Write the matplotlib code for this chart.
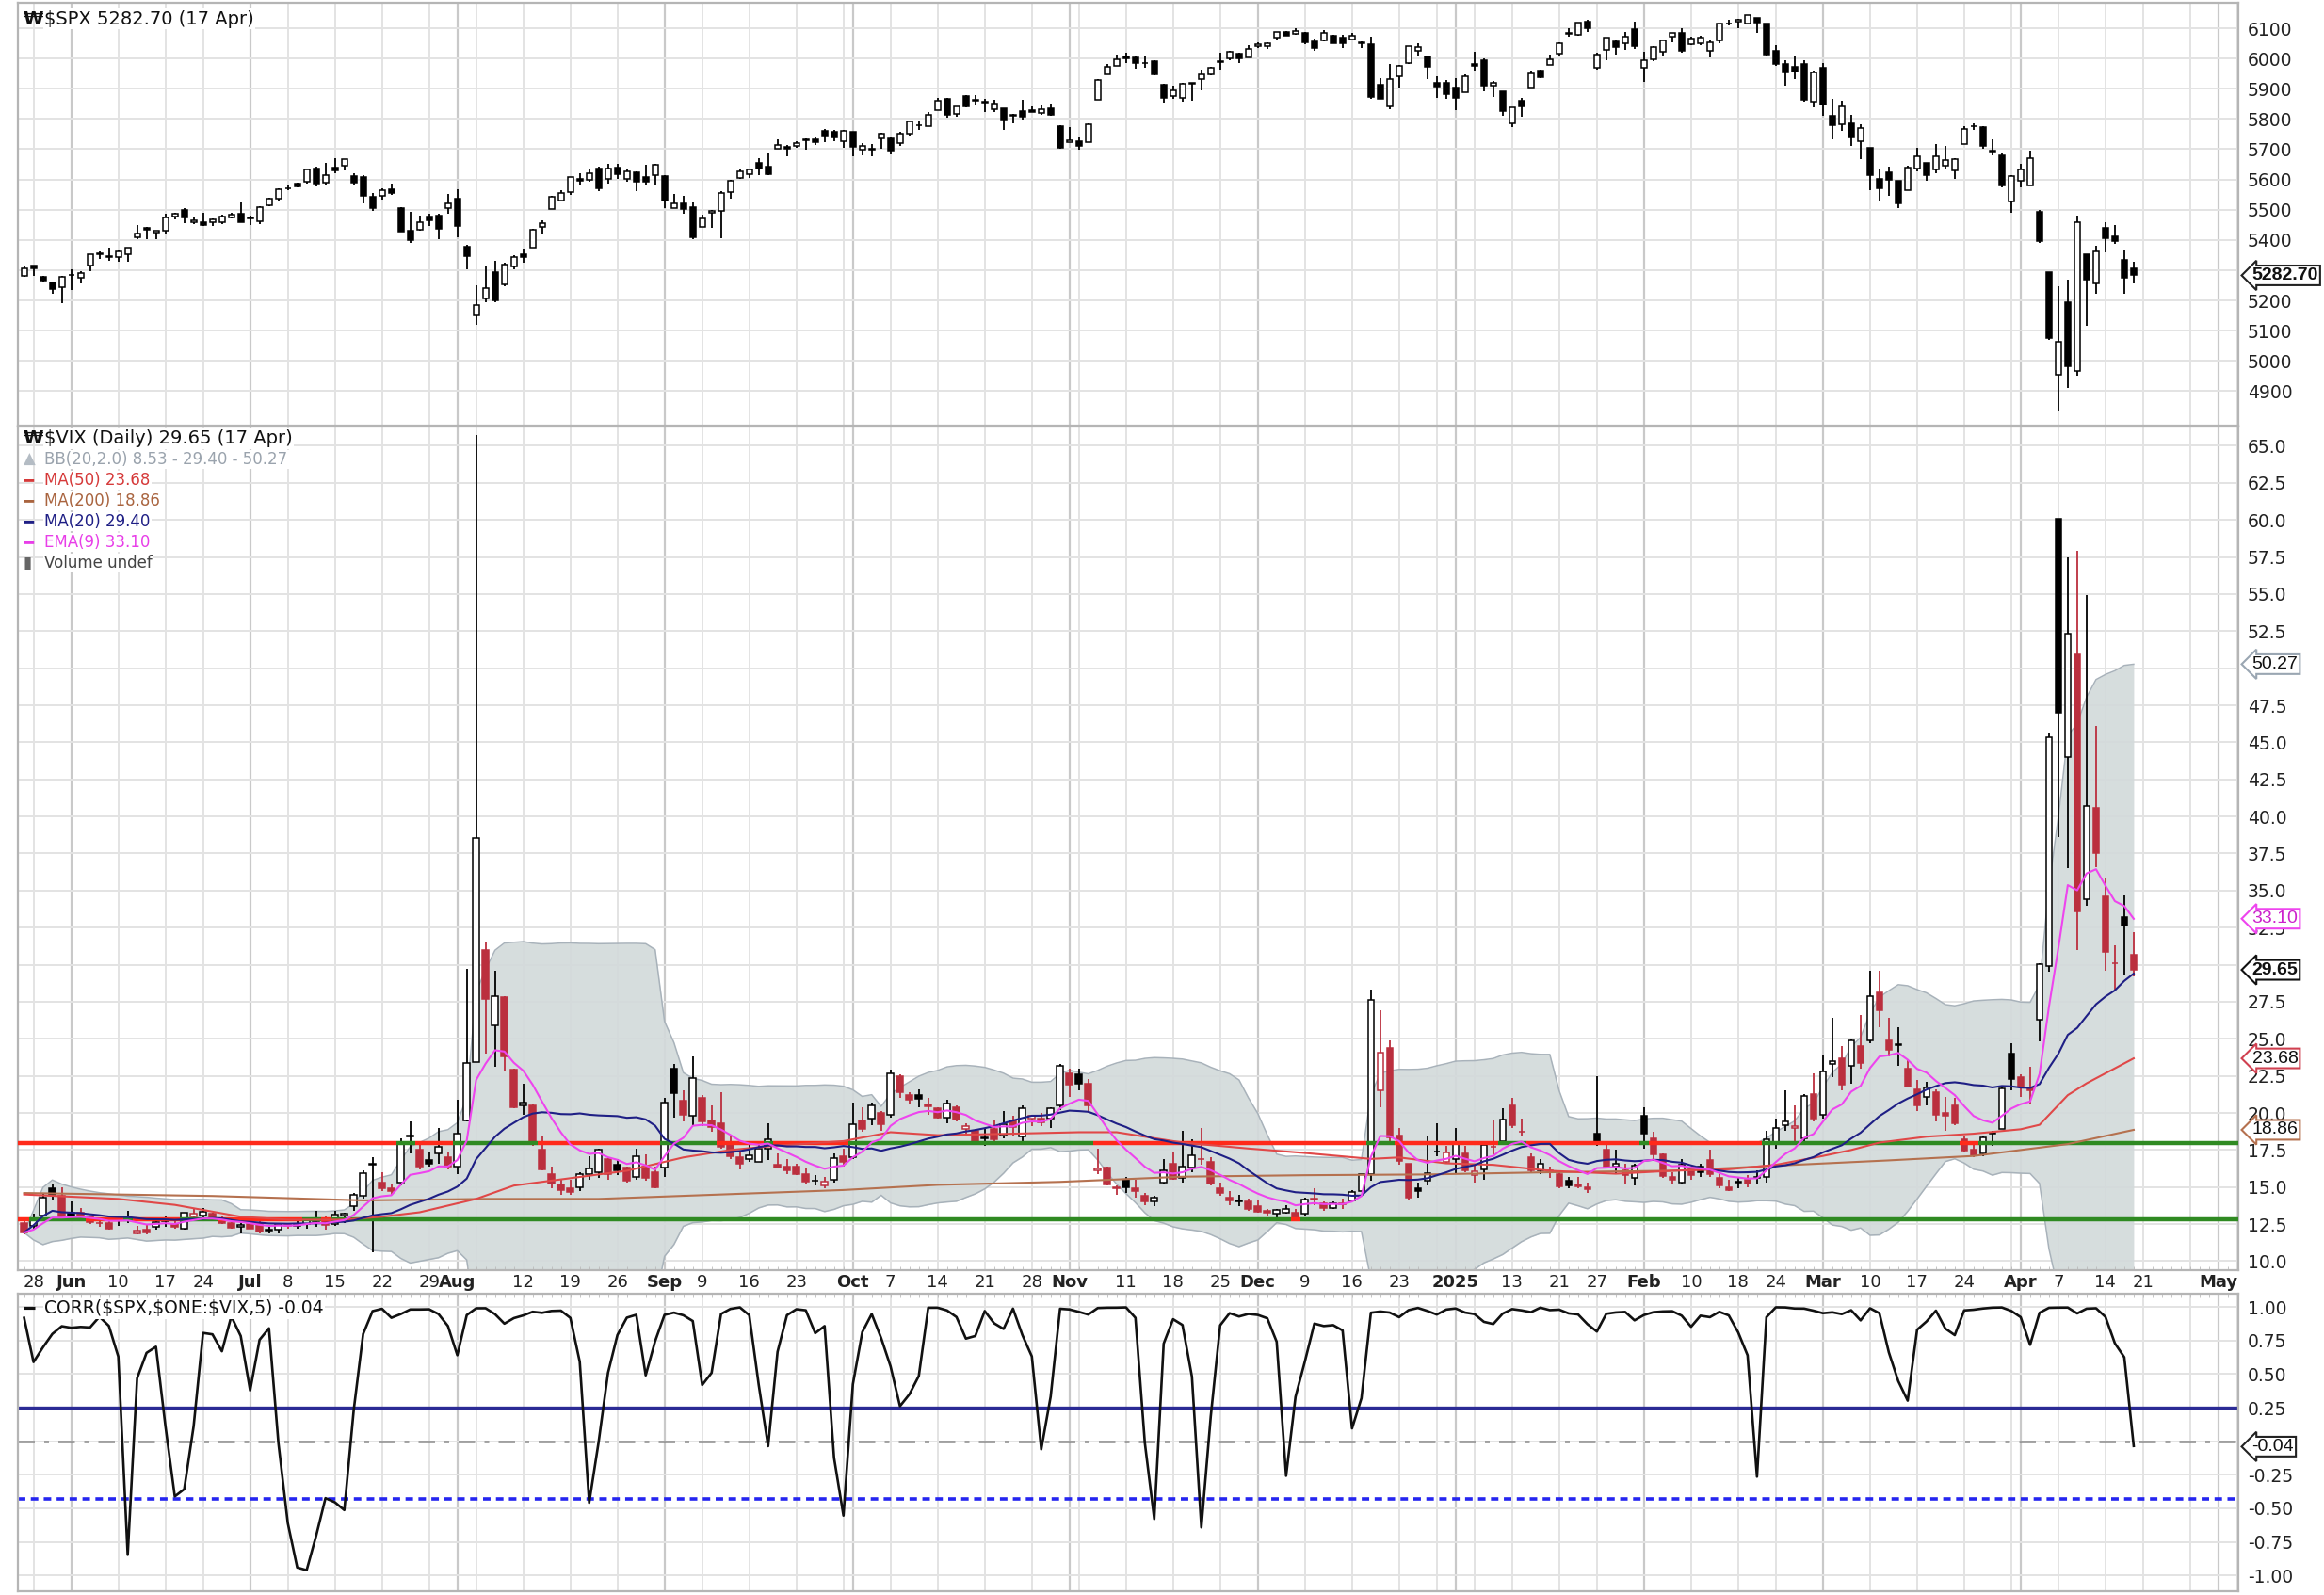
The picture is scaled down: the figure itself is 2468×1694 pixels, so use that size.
import numpy as np
import pandas as pd
import matplotlib
matplotlib.use("Agg")
import matplotlib.pyplot as plt
from matplotlib.patches import Rectangle
from matplotlib.collections import LineCollection
from matplotlib.transforms import blended_transform_factory

plt.rcParams['font.family'] = ['DejaVu Sans']

# trading days on the chart: 24 May 2024 -> 17 Apr 2025, then empty room to early May
closed = ["2024-05-27", "2024-06-19", "2024-07-04", "2024-09-02", "2024-11-28",
          "2024-12-25", "2025-01-01", "2025-01-09", "2025-01-20", "2025-02-17"]
days = pd.bdate_range("2024-05-24", "2025-04-17")
days = days[~days.isin(pd.to_datetime(closed))]
future = pd.bdate_range("2025-04-21", "2025-05-09")
all_days = days.append(future)

# ---- $SPX daily candles ----
spx_open = [5281, 5315, 5279, 5260, 5243,
            5283, 5275, 5314, 5357, 5343, 5342, 5353, 5410, 5441, 5423, 5431, 5477, 5499, 5460, 5459, 5460, 5460, 5473, 5488,
            5471, 5462, 5514, 5537, 5572, 5585, 5591, 5636, 5590, 5638, 5644, 5610, 5608, 5544, 5545, 5566, 5505, 5429, 5433, 5477, 5479, 5505,
            5537, 5377, 5151, 5206, 5294, 5253, 5312, 5352, 5376, 5442, 5502, 5531, 5557, 5603, 5598, 5637, 5603, 5639, 5602, 5624, 5607, 5613,
            5612, 5506, 5521, 5507, 5443, 5491, 5496, 5557, 5604, 5616, 5655, 5641, 5703, 5709, 5711, 5728, 5733, 5762, 5756, 5727,
            5757, 5698, 5699, 5737, 5737, 5719, 5752, 5778, 5775, 5830, 5866, 5816, 5875, 5859, 5857, 5833, 5834, 5814, 5826, 5830, 5819, 5834, 5775,
            5723, 5725, 5722, 5864, 5947, 5976, 6008, 6003, 5986, 5990, 5912, 5875, 5870, 5918, 5933, 5947, 5992, 6000, 6015, 6004,
            6040, 6042, 6070, 6089, 6082, 6083, 6057, 6060, 6074, 6068, 6063, 6052, 6048, 5913, 5842, 5941, 5984, 6025, 6007, 5921, 5920,
            5903, 5888, 5982, 5994, 5910, 5890, 5787, 5859, 5905, 5961, 5978, 6015, 6082, 6077, 6121, 5969, 6027, 6057, 6050, 6097,
            5970, 5998, 6021, 6073, 6083, 6047, 6049, 6026, 6061, 6116, 6121, 6117, 6134, 6115, 6026, 5982, 5971, 5981, 5857,
            5969, 5811, 5782, 5786, 5726, 5705, 5603, 5624, 5595, 5563, 5635, 5655, 5632, 5646, 5630, 5718, 5776, 5772, 5696, 5679, 5528,
            5597, 5580, 5492, 5292, 4953, 5193, 4966, 5354, 5255, 5441, 5412, 5335, 5306]
spx_high = [5311, 5315, 5282, 5260, 5280,
            5302, 5298, 5354, 5362, 5376, 5366, 5376, 5448, 5442, 5432, 5488, 5490, 5506, 5478, 5490, 5472, 5483, 5491, 5524,
            5480, 5510, 5539, 5570, 5583, 5590, 5636, 5642, 5655, 5670, 5667, 5622, 5615, 5556, 5570, 5586, 5508, 5492, 5479, 5488, 5486, 5552,
            5566, 5383, 5250, 5313, 5330, 5326, 5351, 5371, 5436, 5464, 5546, 5564, 5608, 5621, 5633, 5643, 5651, 5652, 5632, 5627, 5647, 5651,
            5613, 5552, 5547, 5523, 5484, 5500, 5560, 5600, 5636, 5637, 5670, 5690, 5734, 5715, 5725, 5735, 5741, 5767, 5764, 5765,
            5758, 5720, 5718, 5753, 5739, 5757, 5796, 5796, 5823, 5871, 5870, 5843, 5879, 5878, 5866, 5863, 5835, 5818, 5862, 5843, 5848, 5851, 5780,
            5772, 5741, 5784, 5933, 5983, 6012, 6018, 6010, 6009, 5994, 5916, 5909, 5920, 5920, 5963, 5973, 6020, 6025, 6020, 6044,
            6053, 6053, 6089, 6092, 6100, 6089, 6066, 6093, 6079, 6078, 6085, 6057, 6071, 5936, 5982, 5978, 6041, 6049, 6007, 5941, 5929,
            5935, 5949, 6022, 6001, 5927, 5890, 5839, 5871, 5961, 5964, 6014, 6052, 6100, 6119, 6129, 6018, 6070, 6062, 6087, 6121,
            6023, 6042, 6062, 6084, 6101, 6073, 6076, 6064, 6116, 6128, 6130, 6145, 6134, 6116, 6044, 5993, 6009, 5994, 5959,
            5986, 5866, 5860, 5813, 5783, 5706, 5636, 5642, 5597, 5645, 5704, 5655, 5716, 5711, 5670, 5775, 5786, 5777, 5732, 5685, 5615,
            5651, 5695, 5500, 5292, 5247, 5268, 5481, 5354, 5381, 5460, 5450, 5368, 5328]
spx_low = [5278, 5280, 5263, 5222, 5192,
           5234, 5257, 5297, 5336, 5331, 5328, 5327, 5402, 5404, 5404, 5421, 5468, 5455, 5452, 5446, 5446, 5451, 5470, 5460,
           5448, 5453, 5510, 5531, 5563, 5574, 5587, 5576, 5584, 5620, 5631, 5584, 5522, 5497, 5534, 5550, 5426, 5391, 5430, 5445, 5403, 5488,
           5410, 5302, 5119, 5193, 5195, 5247, 5303, 5324, 5376, 5420, 5502, 5530, 5550, 5584, 5591, 5560, 5586, 5603, 5591, 5561, 5584, 5581,
           5506, 5504, 5486, 5403, 5442, 5441, 5406, 5535, 5601, 5604, 5614, 5615, 5703, 5675, 5704, 5698, 5714, 5722, 5727, 5704,
           5677, 5679, 5675, 5703, 5683, 5712, 5745, 5764, 5775, 5829, 5804, 5808, 5840, 5846, 5824, 5822, 5763, 5784, 5799, 5823, 5813, 5811, 5703,
           5723, 5697, 5722, 5863, 5947, 5976, 5986, 5965, 5970, 5943, 5854, 5865, 5858, 5860, 5896, 5944, 5964, 5993, 5984, 6003,
           6035, 6033, 6061, 6075, 6079, 6048, 6024, 6058, 6051, 6036, 6059, 6035, 5867, 5866, 5832, 5903, 5983, 6007, 5933, 5869, 5868,
           5829, 5888, 5960, 5890, 5874, 5809, 5774, 5808, 5905, 5936, 5978, 6007, 6072, 6075, 6089, 5962, 5994, 6012, 6027, 6030,
           5923, 5991, 6007, 6053, 6020, 6044, 6043, 6004, 6051, 6108, 6099, 6111, 6084, 6009, 5977, 5909, 5933, 5858, 5837,
           5810, 5733, 5762, 5711, 5666, 5565, 5529, 5546, 5505, 5563, 5628, 5597, 5622, 5632, 5603, 5718, 5765, 5703, 5681, 5573, 5489,
           5574, 5579, 5391, 5069, 4835, 4911, 4950, 5116, 5221, 5359, 5387, 5221, 5256]
spx_close = [5305, 5306, 5267, 5236, 5278,
             5283, 5291, 5354, 5352, 5347, 5361, 5375, 5421, 5434, 5431, 5473, 5487, 5473, 5464, 5448, 5469, 5478, 5482, 5460,
             5475, 5509, 5537, 5567, 5572, 5577, 5633, 5585, 5615, 5631, 5667, 5589, 5545, 5505, 5564, 5556, 5427, 5399, 5459, 5464, 5436, 5522,
             5446, 5346, 5186, 5240, 5199, 5319, 5344, 5344, 5434, 5455, 5543, 5554, 5608, 5597, 5621, 5571, 5635, 5617, 5626, 5592, 5592, 5648,
             5529, 5520, 5503, 5408, 5471, 5496, 5554, 5596, 5626, 5634, 5635, 5618, 5714, 5703, 5719, 5732, 5722, 5745, 5738, 5762,
             5709, 5710, 5700, 5751, 5696, 5751, 5792, 5780, 5815, 5859, 5815, 5842, 5841, 5864, 5853, 5851, 5797, 5809, 5808, 5823, 5832, 5813, 5705,
             5729, 5712, 5783, 5929, 5973, 5996, 6001, 5984, 5985, 5949, 5871, 5894, 5917, 5917, 5949, 5969, 5987, 6021, 5999, 6032,
             6047, 6050, 6087, 6075, 6090, 6053, 6034, 6084, 6051, 6051, 6074, 6051, 5872, 5867, 5931, 5974, 6040, 6037, 5971, 5907, 5882,
             5869, 5942, 5975, 5909, 5918, 5827, 5837, 5843, 5950, 5937, 5997, 6049, 6086, 6119, 6101, 6012, 6068, 6039, 6071, 6041,
             5994, 6038, 6061, 6084, 6026, 6066, 6068, 6052, 6115, 6115, 6129, 6144, 6118, 6013, 5983, 5955, 5956, 5862, 5955,
             5849, 5778, 5843, 5739, 5770, 5615, 5572, 5599, 5522, 5639, 5675, 5615, 5675, 5663, 5668, 5768, 5777, 5712, 5693, 5581, 5612,
             5633, 5671, 5397, 5074, 5062, 4983, 5457, 5268, 5363, 5406, 5397, 5276, 5282.70]

# ---- $VIX daily candles ----
vix_prev_close = 12.77   # 23 May, only used to colour the first candle
vix_open = [12.6, 12.4, 13.1, 14.9, 14.4,
            13.3, 13.3, 13.0, 12.6, 12.6, 12.8, 12.8, 11.9, 12.1, 12.3, 12.7, 12.5, 12.2, 13.0, 13.1, 13.2, 12.8, 12.6, 12.3,
            12.5, 12.6, 12.1, 12.1, 12.5, 12.4, 12.5, 12.7, 12.8, 12.5, 13.1, 13.7, 14.4, 16.6, 15.3, 14.9, 15.3, 18.4, 17.5, 16.8, 17.3, 17.0,
            16.4, 19.5, 23.4, 31.0, 25.9, 27.8, 22.9, 20.5, 20.5, 17.5, 15.9, 15.2, 14.9, 15.0, 15.9, 16.0, 16.9, 16.5, 16.3, 15.7, 16.4, 16.0,
            16.3, 23.0, 20.8, 19.8, 21.0, 19.5, 19.3, 17.9, 17.0, 16.9, 16.7, 17.6, 16.5, 16.4, 16.4, 15.9, 15.4, 15.1, 15.5, 17.1,
            17.0, 19.5, 19.6, 20.0, 19.9, 22.5, 21.2, 21.2, 20.6, 20.3, 19.7, 20.4, 18.9, 18.8, 18.3, 18.9, 18.5, 19.5, 18.4, 19.6, 19.6, 19.6, 20.5,
            22.7, 22.6, 22.0, 16.1, 16.3, 15.0, 15.5, 14.9, 14.4, 14.0, 15.3, 16.6, 15.6, 16.3, 16.9, 16.7, 14.9, 14.3, 14.0, 14.0,
            13.7, 13.4, 13.2, 13.3, 13.3, 13.2, 14.2, 13.9, 13.6, 13.9, 14.1, 14.7, 15.9, 21.5, 24.4, 18.5, 16.6, 14.9, 15.4, 17.4, 16.7,
            16.9, 17.3, 15.8, 16.2, 17.7, 18.1, 20.5, 18.7, 17.0, 16.1, 16.1, 15.9, 15.4, 15.2, 15.0, 18.6, 17.5, 16.4, 16.1, 15.6,
            19.8, 18.3, 17.2, 15.7, 15.3, 16.3, 16.4, 16.8, 15.6, 15.0, 15.3, 15.5, 15.6, 15.7, 18.0, 19.2, 19.0, 18.3, 21.3,
            19.9, 23.3, 23.7, 23.2, 24.5, 24.9, 28.1, 24.9, 24.6, 23.0, 21.6, 21.1, 21.4, 20.0, 20.5, 18.2, 17.5, 17.3, 18.6, 18.9, 24.0,
            22.4, 21.7, 26.3, 29.9, 60.1, 44.0, 50.9, 34.4, 40.6, 34.6, 30.1, 33.2, 30.7]
vix_high = [12.7, 13.2, 14.6, 15.2, 15.0,
            14.0, 13.6, 13.1, 12.8, 12.9, 13.0, 13.4, 12.4, 12.5, 12.8, 13.0, 12.7, 13.3, 13.5, 13.6, 13.3, 13.0, 12.7, 12.6,
            13.0, 12.7, 12.3, 12.5, 12.6, 12.7, 12.9, 13.4, 13.0, 13.4, 13.3, 14.6, 16.1, 17.0, 16.0, 15.2, 18.3, 19.4, 18.1, 17.4, 19.0, 17.4,
            20.9, 29.7, 65.7, 31.5, 29.6, 27.9, 23.0, 22.0, 20.6, 18.4, 16.4, 15.5, 15.5, 16.0, 17.1, 17.6, 17.0, 16.9, 16.4, 17.6, 17.2, 16.4,
            21.0, 23.3, 21.5, 23.8, 21.2, 20.5, 21.4, 18.4, 17.4, 17.9, 17.9, 19.3, 17.3, 16.9, 16.6, 16.3, 15.8, 15.7, 17.3, 17.6,
            20.7, 20.4, 20.7, 20.1, 22.9, 22.6, 21.4, 21.6, 21.0, 20.4, 20.9, 20.5, 19.3, 18.9, 18.9, 19.5, 20.1, 19.8, 20.5, 19.8, 20.0, 20.4, 23.3,
            23.0, 23.0, 22.3, 17.6, 16.4, 15.1, 15.7, 15.5, 14.6, 14.4, 16.9, 17.4, 18.8, 18.2, 19.0, 17.0, 15.3, 14.7, 14.5, 14.2,
            14.1, 13.5, 13.5, 13.8, 13.5, 14.3, 14.9, 14.0, 14.0, 14.2, 14.8, 15.9, 28.3, 26.9, 24.9, 19.0, 16.6, 15.3, 18.4, 19.3, 17.8,
            19.0, 17.8, 16.5, 18.1, 19.5, 20.3, 21.0, 19.6, 17.3, 16.9, 16.4, 16.0, 15.7, 15.7, 15.3, 22.5, 17.9, 17.5, 16.6, 16.6,
            20.4, 18.7, 17.3, 16.0, 16.9, 16.4, 16.6, 17.5, 15.9, 15.5, 15.6, 15.8, 16.1, 18.8, 19.6, 21.5, 20.5, 21.3, 22.7,
            23.9, 26.4, 24.5, 25.0, 26.6, 29.6, 29.6, 26.4, 25.8, 23.6, 22.2, 22.1, 21.6, 21.1, 21.0, 18.4, 17.9, 18.4, 18.8, 21.8, 24.7,
            22.6, 23.1, 30.1, 45.6, 60.1, 57.5, 57.9, 54.9, 46.1, 35.9, 31.3, 34.7, 32.2]
vix_low = [11.8, 12.2, 13.0, 14.1, 12.7,
           12.8, 12.9, 12.5, 12.3, 12.1, 12.4, 12.6, 11.8, 11.8, 12.1, 12.3, 12.2, 12.1, 12.8, 12.8, 12.8, 12.5, 12.2, 11.9,
           12.2, 11.9, 11.9, 11.9, 12.2, 12.2, 12.2, 12.3, 12.1, 12.4, 12.6, 13.4, 14.2, 10.6, 14.7, 14.5, 15.1, 17.3, 16.2, 16.4, 16.6, 16.2,
           15.9, 19.4, 23.4, 24.0, 23.1, 22.8, 20.3, 19.9, 17.8, 16.1, 14.9, 14.5, 14.5, 14.7, 15.5, 15.6, 15.5, 15.8, 15.3, 15.5, 15.4, 14.9,
           15.7, 19.7, 19.4, 19.2, 19.1, 18.7, 17.6, 16.9, 16.2, 16.7, 16.7, 16.8, 16.3, 15.9, 15.8, 15.2, 15.1, 14.9, 15.3, 16.4,
           16.9, 18.7, 19.2, 18.8, 19.7, 21.0, 20.6, 20.4, 19.9, 19.6, 19.3, 19.4, 18.5, 18.0, 17.8, 18.0, 18.3, 18.5, 17.9, 19.1, 19.1, 19.0, 20.2,
           21.1, 21.5, 20.0, 15.9, 15.1, 14.5, 14.6, 14.3, 13.8, 13.7, 15.2, 15.5, 15.3, 16.0, 16.5, 15.1, 14.4, 13.8, 13.7, 13.4,
           13.3, 13.1, 12.8, 13.2, 12.7, 13.1, 13.8, 13.4, 13.5, 13.5, 14.0, 14.7, 15.4, 20.4, 18.0, 16.5, 14.1, 14.3, 15.1, 17.1, 16.6,
           15.9, 16.0, 15.3, 15.5, 17.2, 17.9, 19.0, 18.4, 16.0, 15.9, 15.6, 14.9, 14.9, 14.9, 14.6, 17.8, 16.3, 15.9, 15.2, 15.1,
           17.6, 16.8, 15.6, 15.2, 15.2, 15.5, 15.7, 15.7, 14.9, 14.7, 14.9, 15.0, 15.2, 15.3, 17.6, 18.8, 18.1, 17.9, 19.4,
           19.6, 22.4, 21.5, 22.0, 23.0, 24.7, 25.8, 23.8, 23.2, 21.7, 20.1, 20.5, 19.4, 18.8, 19.2, 17.4, 17.0, 17.1, 17.8, 18.9, 21.5,
           21.1, 20.6, 24.8, 29.5, 38.6, 36.5, 31.0, 34.0, 36.6, 29.6, 28.3, 29.3, 29.2]
vix_close = [11.93, 12.92, 14.28, 14.47, 12.92,
             13.11, 13.06, 12.63, 12.58, 12.22, 12.74, 12.85, 12.04, 11.94, 12.66, 12.75, 12.30, 13.28, 13.20, 13.33, 12.84, 12.55, 12.24, 12.44,
             12.22, 12.03, 12.09, 12.48, 12.37, 12.51, 12.85, 12.89, 12.46, 13.12, 13.19, 14.48, 15.93, 16.52, 14.91, 14.72, 18.04, 18.46, 16.39, 16.60, 17.69, 16.36,
             18.59, 23.39, 38.57, 27.71, 27.85, 23.79, 20.37, 20.71, 18.12, 16.19, 15.23, 14.80, 14.65, 15.88, 16.27, 17.55, 15.86, 16.15, 15.43, 17.11, 15.65, 15.00,
             20.72, 21.32, 19.90, 22.38, 19.45, 19.08, 17.69, 17.07, 16.56, 17.14, 17.61, 18.23, 16.33, 16.15, 15.89, 15.39, 15.41, 15.37, 16.96, 16.73,
             19.26, 18.90, 20.49, 19.21, 22.64, 21.42, 20.86, 20.93, 20.46, 19.70, 20.64, 19.58, 19.11, 18.03, 18.37, 18.20, 19.24, 19.08, 20.33, 19.80, 19.34, 20.35, 23.16,
             21.88, 21.98, 20.49, 16.27, 15.20, 14.94, 14.97, 14.71, 14.02, 14.31, 16.14, 15.58, 16.35, 17.16, 16.87, 15.24, 14.60, 14.10, 14.10, 13.51,
             13.34, 13.30, 13.45, 13.54, 12.77, 14.19, 14.18, 13.58, 13.92, 13.81, 14.69, 15.87, 27.62, 24.09, 18.36, 16.78, 14.27, 14.73, 15.95, 17.40, 17.35,
             17.93, 16.13, 16.04, 17.82, 17.70, 19.54, 19.19, 18.71, 16.12, 16.60, 15.97, 15.06, 15.10, 15.02, 14.85, 17.90, 16.41, 16.56, 15.84, 16.43,
             18.62, 17.21, 15.77, 15.50, 16.54, 15.81, 16.02, 15.89, 15.10, 14.77, 15.35, 15.27, 15.66, 18.21, 18.98, 19.43, 19.10, 21.13, 19.63,
             22.78, 23.51, 21.93, 24.87, 23.37, 27.86, 26.92, 24.23, 24.66, 21.77, 20.51, 21.70, 19.90, 19.80, 19.28, 17.48, 17.15, 18.33, 18.69, 21.65, 22.28,
             21.77, 21.51, 30.02, 45.31, 46.98, 52.33, 33.62, 40.72, 37.56, 30.89, 30.12, 32.64, 29.65]

# slow averages (trading-day index, value)
ma50_idx = [0, 10, 16, 23, 28, 34, 38, 42, 48, 52, 58, 64, 70, 75, 80, 87, 92, 97, 105, 112, 116, 123, 130,
            136, 143, 146, 151, 156, 162, 169, 175, 181, 186, 191, 194, 197, 202, 207, 212, 214, 217, 219, 224]
ma50_val = [14.5, 14.2, 13.8, 13.0, 12.8, 12.8, 13.0, 13.3, 14.2, 15.1, 15.6, 16.1, 17.0, 17.5, 17.8, 18.1, 18.7, 18.5, 18.6, 18.7, 18.7, 18.0, 17.6,
            17.3, 16.9, 17.0, 16.6, 16.5, 16.1, 15.9, 16.1, 16.2, 16.5, 17.1, 17.5, 18.0, 18.4, 18.6, 18.9, 19.2, 21.2, 22.0, 23.68]
ma200_idx = [0, 20, 36, 49, 61, 74, 87, 97, 110, 123, 136, 149, 162, 175, 188, 198, 207, 217, 224]
ma200_val = [14.6, 14.4, 14.1, 14.2, 14.2, 14.5, 14.8, 15.15, 15.35, 15.7, 15.8, 15.85, 16.0, 16.1, 16.5, 16.8, 17.1, 17.9, 18.86]

# horizontal levels drawn on the VIX panel
vix_levels = [18.0, 12.8]

# CORR($SPX,$ONE:$VIX,5): first four points (window not yet full)
corr_head = [0.92, 0.59, 0.70, 0.80]
corr_levels = [0.25, 0.0, -0.43]

# date axis labels
tick_dates = ["2024-05-28", "2024-06-03", "2024-06-10", "2024-06-17", "2024-06-24", "2024-07-01", "2024-07-08",
              "2024-07-15", "2024-07-22", "2024-07-29", "2024-08-01", "2024-08-12", "2024-08-19", "2024-08-26",
              "2024-09-03", "2024-09-09", "2024-09-16", "2024-09-23", "2024-10-01", "2024-10-07", "2024-10-14",
              "2024-10-21", "2024-10-28", "2024-11-01", "2024-11-11", "2024-11-18", "2024-11-25", "2024-12-02",
              "2024-12-09", "2024-12-16", "2024-12-23", "2025-01-02", "2025-01-13", "2025-01-21", "2025-01-27",
              "2025-02-03", "2025-02-10", "2025-02-18", "2025-02-24", "2025-03-03", "2025-03-10", "2025-03-17",
              "2025-03-24", "2025-04-01", "2025-04-07", "2025-04-14", "2025-04-21", "2025-05-01"]
tick_text = ["28", "Jun", "10", "17", "24", "Jul", "8", "15", "22", "29", "Aug", "12", "19", "26",
             "Sep", "9", "16", "23", "Oct", "7", "14", "21", "28", "Nov", "11", "18", "25", "Dec",
             "9", "16", "23", "2025", "13", "21", "27", "Feb", "10", "18", "24", "Mar", "10", "17",
             "24", "Apr", "7", "14", "21", "May"]

n = len(days)
for arr in (spx_open, spx_high, spx_low, spx_close, vix_open, vix_high, vix_low, vix_close):
    assert len(arr) == n, (len(arr), n)

# indicators on the VIX closes
vc = pd.Series(vix_close, dtype=float)
ma20 = vc.rolling(20, min_periods=1).mean().to_numpy()
sd20 = vc.rolling(20, min_periods=1).std(ddof=0).fillna(0).to_numpy()
bb_up = ma20 + 2 * sd20
bb_lo = ma20 - 2 * sd20
ema9 = vc.ewm(span=9, adjust=False).mean().to_numpy()
corr = pd.Series(spx_close, dtype=float).rolling(5).corr(1.0 / vc).to_numpy()
corr[:4] = corr_head

# ---------------- figure ----------------
fig = plt.figure(figsize=(24.68, 16.94), dpi=100)
L, W = 0.0077, 0.9554
ax1 = fig.add_axes([L, 0.7332, W, 0.2650])
ax2 = fig.add_axes([L, 0.2037, W, 0.5289])
ax3 = fig.add_axes([L, 0.0024, W, 0.1865])

xmin, xmax = -0.66, 235.1
grid_c = "#e3e3e3"
month_c = "#c9c9c9"
frame_c = "#b5b5b5"

# vertical grid: first trading day of each week / month
week_pos, month_pos = [], []
for i, d in enumerate(all_days):
    if i == 0:
        continue
    p = all_days[i - 1]
    if d.month != p.month:
        month_pos.append(i)
    elif d.weekday() <= p.weekday():
        week_pos.append(i)

for ax, yt in ((ax1, np.arange(4900, 6101, 100)),
               (ax2, np.arange(10, 65.01, 2.5)),
               (ax3, np.arange(-1.0, 1.01, 0.25))):
    ax.set_xlim(xmin, xmax)
    for p in week_pos:
        ax.axvline(p, color=grid_c, lw=1.4, zorder=0)
    for p in month_pos:
        ax.axvline(p, color=month_c, lw=1.6, zorder=0)
    for y in yt:
        ax.axhline(y, color=grid_c, lw=1.4, zorder=0)
    ax.yaxis.tick_right()
    ax.set_yticks(yt)
    ax.tick_params(axis="y", length=0, pad=7, labelsize=13.5, colors="#222222")
    for s in ax.spines.values():
        s.set_color(frame_c)
        s.set_linewidth(1.6)


def draw_candles(ax, o, h, l, c, colors, width=0.62):
    for i in range(len(c)):
        col = colors[i]
        ax.vlines(i, l[i], h[i], color=col, lw=1.3, zorder=3)
        lo, hi = min(o[i], c[i]), max(o[i], c[i])
        face = "white" if c[i] > o[i] else col
        ax.add_patch(Rectangle((i - width / 2, lo), width, hi - lo, facecolor=face,
                               edgecolor=col, lw=1.1, zorder=4))


def tag(ax, y, s, ec, tc="#111111", bold=False):
    # value flag on the right axis, drawn over the tick label it hides
    tr = blended_transform_factory(ax.transAxes, ax.transData)
    ax.text(1.0062, y, s, transform=tr, va="center", ha="left", fontsize=14,
            family=["Liberation Sans", "DejaVu Sans"], color=tc,
            fontweight="bold" if bold else "normal", zorder=20, clip_on=False,
            bbox=dict(boxstyle="larrow,pad=0.1", fc="white", ec=ec, lw=1.5))


def legend_line(ax, ypix, s, color, size=12.5, mark=None, mark_color=None):
    yy = 1 - ypix
    if mark:
        ax.text(0.0025, yy, mark, transform=ax.transAxes, va="center", ha="left", fontsize=size,
                color=mark_color or color, zorder=21, fontweight="bold")
    ax.text(0.0119, yy, s, transform=ax.transAxes, va="center", ha="left", fontsize=size, color=color,
            zorder=21, bbox=dict(boxstyle="square,pad=0.08", fc="white", ec="none"))


# ---- top panel: $SPX ----
draw_candles(ax1, spx_open, spx_high, spx_low, spx_close, ["black"] * n, width=0.6)
ax1.set_ylim(4786, 6184)
# 5300 sits under the last-price flag, so its label stays blank
ax1.set_yticklabels(["" if v == 5300 else str(v) for v in range(4900, 6101, 100)])
ax1.set_xticks([])
legend_line(ax1, 17 / 449, r"\$SPX 5282.70 (17 Apr)", "#111111", size=14, mark="₩")
tag(ax1, 5282.70, "5282.70", "#222222", bold=True)

# ---- middle panel: $VIX ----
ax2.fill_between(np.arange(n), bb_lo, bb_up, color="#d3dadb", alpha=0.92, lw=0, zorder=1)
ax2.plot(np.arange(n), bb_up, color="#a8b2ba", lw=1.1, zorder=1.5)
ax2.plot(np.arange(n), bb_lo, color="#a8b2ba", lw=1.1, zorder=1.5)

vix_red = "#bb2f3e"
prev = [vix_prev_close] + vix_close[:-1]
vcols = [vix_red if c < p else "black" for c, p in zip(vix_close, prev)]
draw_candles(ax2, vix_open, vix_high, vix_low, vix_close, vcols, width=0.66)

ax2.plot(ma200_idx, ma200_val, color="#b5714f", lw=1.5, zorder=6)
ax2.plot(ma50_idx, ma50_val, color="#e04848", lw=1.5, zorder=6)
ax2.plot(np.arange(n), ma20, color="#1f1f85", lw=1.5, zorder=6)
ax2.plot(np.arange(n), ema9, color="#ee44ee", lw=1.5, zorder=6)

for lev in vix_levels:
    segs, cols = [], []
    for i, c in enumerate(vix_close):
        x0 = xmin if i == 0 else i - 0.5
        x1 = xmax if i == n - 1 else i + 0.5
        segs.append([(x0, lev), (x1, lev)])
        cols.append("#2f8a22" if c > lev else "#ff2a1a")
    ax2.add_collection(LineCollection(segs, colors=cols, linewidths=3.2, zorder=5))

ax2.set_ylim(9.4, 66.3)
vix_ticks = np.arange(10, 65.01, 2.5)
# 50.0 and 30.0 are hidden under the 50.27 / 29.65 flags
ax2.set_yticklabels(["" if v in (30.0, 50.0) else "%.1f" % v for v in vix_ticks])

tick_pos = [all_days.get_loc(pd.Timestamp(d)) for d in tick_dates]
ax2.set_xticks(tick_pos)
ax2.set_xticklabels(tick_text)
bold_words = {"Jun", "Jul", "Aug", "Sep", "Oct", "Nov", "Dec", "2025", "Feb", "Mar", "Apr", "May"}
for lab in ax2.get_xticklabels():
    if lab.get_text() in bold_words:
        lab.set_fontweight("bold")
        lab.set_fontsize(14)
ax2.tick_params(axis="x", length=0, pad=3, labelsize=13, colors="#222222")
ax2.set_xticks(np.arange(0, 236), minor=True)
ax2.tick_params(axis="x", which="minor", length=3, direction="in", color="#bbbbbb")

lh = 22 / 896
legend_line(ax2, 13 / 896, r"\$VIX (Daily) 29.65 (17 Apr)", "#111111", size=14, mark="₩")
legend_line(ax2, 13 / 896 + lh, "BB(20,2.0) 8.53 - 29.40 - 50.27", "#9aa3ad", size=12, mark="▲", mark_color="#b4bcc4")
legend_line(ax2, 13 / 896 + 2 * lh, "MA(50) 23.68", "#d63a3a", size=12, mark="━")
legend_line(ax2, 13 / 896 + 3 * lh, "MA(200) 18.86", "#a9643f", size=12, mark="━")
legend_line(ax2, 13 / 896 + 4 * lh, "MA(20) 29.40", "#1f1f85", size=12, mark="━")
legend_line(ax2, 13 / 896 + 5 * lh, "EMA(9) 33.10", "#e83ee8", size=12, mark="━")
legend_line(ax2, 13 / 896 + 6 * lh, "Volume undef", "#444444", size=12, mark="▮", mark_color="#666666")

tag(ax2, 50.27, "50.27", "#9aa6b2")
tag(ax2, 33.10, "33.10", "#ee44ee", tc="#cc22cc")
tag(ax2, 29.65, "29.65", "#111111", bold=True)
tag(ax2, 23.68, "23.68", "#d04050")
tag(ax2, 18.86, "18.86", "#b5714f")

# ---- bottom panel: correlation ----
ax3.axhline(corr_levels[0], color="#2b2b95", lw=2.4, zorder=2)
ax3.axhline(corr_levels[1], color="#8a8a8a", lw=1.8, ls=(0, (7, 4, 2, 4)), zorder=2)
ax3.axhline(corr_levels[2], color="#2525f0", lw=2.6, ls=(0, (2.2, 1.6)), zorder=2)
ax3.plot(np.arange(n), corr, color="#111111", lw=1.9, zorder=4)
ax3.set_ylim(-1.118, 1.10)
corr_ticks = np.arange(-1.0, 1.01, 0.25)
# the 0.00 label sits under the -0.04 flag, so it is left blank
ax3.set_yticklabels(["" if abs(v) < 1e-9 else "%.2f" % v for v in corr_ticks])
ax3.set_xticks([])
ax3.set_xticks(np.arange(0, 236), minor=True)
ax3.tick_params(axis="x", which="minor", length=3, direction="in", color="#bbbbbb",
                top=True, bottom=False, labelbottom=False)
legend_line(ax3, 16 / 316, r"CORR(\$SPX,\$ONE:\$VIX,5) -0.04", "#111111", size=13.5, mark="━")
tag(ax3, -0.04, "-0.04", "#222222")

fig.savefig("out.png", dpi=100)
